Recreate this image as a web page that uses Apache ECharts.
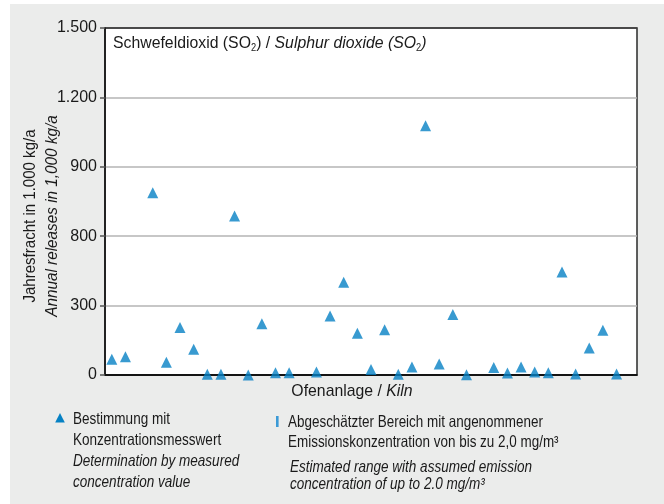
<!DOCTYPE html>
<html>
<head>
<meta charset="utf-8">
<script src="https://cdn.jsdelivr.net/npm/echarts@6/dist/echarts.min.js"></script>
<style>
  html, body { margin: 0; padding: 0; background: #fff; }
  #main { width: 664px; height: 504px; }
</style>
</head>
<body>
<div id="main"></div>
<script>
// kilns (no labels shown on the x axis)
var kilns = [];
for (var k = 1; k <= 39; k++) kilns.push("K" + k);

// SO2 annual releases, 1,000 kg/a (null = no measured value)
var so2Values = [
  68, 79, null, 788, 55, 205, 111, 3, 3, 687,
  0, 222, 10, 10, null, 13, 255, 401, 180, 24,
  196, 3, 35, 1077, 48, 262, 1, null, 32, 9,
  35, 13, 10, 445, 4, 117, 193, 4, null
];

// tick labels as printed in the original figure
var yTickLabels = ["0", "300", "800", "900", "1.200", "1.500"];

var FONT = '"Liberation Sans", Arial, sans-serif';
var BLUE = "#0681c4";
var INK = "#1a1a1a";

var chartDom = document.getElementById("main");
var myChart = echarts.init(chartDom);

var option = {
  backgroundColor: "#fff",
  animation: false,
  grid: {
    left: 105,
    right: 27,
    top: 28,
    bottom: 129,
    show: true,
    backgroundColor: "#fff",
    borderColor: "#2a2a2a",
    borderWidth: 1.5
  },
  xAxis: {
    type: "category",
    data: kilns,
    boundaryGap: true,
    axisLine: { lineStyle: { color: "#111", width: 1.5 } },
    axisTick: { show: false },
    axisLabel: { show: false },
    splitLine: { show: false }
  },
  yAxis: {
    type: "value",
    min: 0,
    max: 1500,
    interval: 300,
    axisLine: { show: true, lineStyle: { color: "#111", width: 1.5 } },
    axisTick: { show: true, length: 5, lineStyle: { color: "#555", width: 1.5 } },
    axisLabel: {
      margin: 8,
      color: INK,
      fontSize: 16,
      fontFamily: FONT,
      formatter: function (v) {
        return yTickLabels[Math.round(v / 300)];
      }
    },
    splitLine: {
      show: true,
      lineStyle: {
        color: ["#111", "#b5b5b5", "#b5b5b5", "#b5b5b5", "#b5b5b5", "#444"],
        width: 1.5
      }
    }
  },
  series: [
    {
      name: "Bestimmung mit Konzentrationsmesswert",
      type: "scatter",
      data: so2Values,
      symbol: "triangle",
      symbolSize: [11, 11],
      itemStyle: { color: BLUE },
      z: 5
    }
  ],
  graphic: [
    {
      type: "rect",
      z: -100,
      silent: true,
      shape: { x: 10, y: 4, width: 654, height: 500 },
      style: { fill: "#ebeceb" }
    },
    // chart title inside the plot
    {
      type: "text",
      x: 113,
      y: 43,
      scaleX: 0.93,
      z: 10,
      style: {
        text: "{n|Schwefeldioxid (SO}{s|2}{n|) / }{i|Sulphur dioxide (SO}{s|2}{i|)}",
        verticalAlign: "middle",
        rich: {
          n: { fontSize: 17, fontFamily: FONT, fill: INK },
          i: { fontSize: 17, fontFamily: FONT, fontStyle: "italic", fill: INK },
          s: { fontSize: 10, fontFamily: FONT, fill: INK, padding: [10, 0, 0, 0] }
        }
      }
    },
    // y axis name, two lines
    {
      type: "text",
      x: 30,
      y: 216,
      rotation: Math.PI / 2,
      scaleX: 0.885,
      style: {
        text: "Jahresfracht in 1.000 kg/a",
        fontSize: 17,
        fontFamily: FONT,
        fill: INK,
        align: "center",
        verticalAlign: "middle"
      }
    },
    {
      type: "text",
      x: 52,
      y: 216,
      rotation: Math.PI / 2,
      scaleX: 0.9,
      style: {
        text: "Annual releases in 1,000 kg/a",
        fontSize: 17,
        fontFamily: FONT,
        fontStyle: "italic",
        fill: INK,
        align: "center",
        verticalAlign: "middle"
      }
    },
    // x axis name
    {
      type: "text",
      x: 352,
      y: 391,
      scaleX: 0.93,
      style: {
        text: "{n|Ofenanlage / }{i|Kiln}",
        align: "center",
        verticalAlign: "middle",
        rich: {
          n: { fontSize: 17, fontFamily: FONT, fill: INK },
          i: { fontSize: 17, fontFamily: FONT, fontStyle: "italic", fill: INK }
        }
      }
    },
    // legend: measured
    {
      type: "polygon",
      shape: { points: [[60, 413], [64.8, 422.5], [55.2, 422.5]] },
      style: { fill: BLUE }
    },
    {
      type: "text",
      x: 73,
      y: 409,
      scaleX: 0.82,
      style: {
        text: "{n|Bestimmung mit}\n{n|Konzentrationsmesswert}\n{i|Determination by measured}\n{i|concentration value}",
        rich: {
          n: { fontSize: 16.5, fontFamily: FONT, fill: INK, lineHeight: 21 },
          i: { fontSize: 16.5, fontFamily: FONT, fontStyle: "italic", fill: INK, lineHeight: 21 }
        }
      }
    },
    // legend: estimated range
    {
      type: "rect",
      shape: { x: 276, y: 416, width: 2.6, height: 11 },
      style: { fill: "#3b9ad6" }
    },
    {
      type: "text",
      x: 288,
      y: 412,
      scaleX: 0.815,
      style: {
        text: "Abgeschätzter Bereich mit angenommener\nEmissionskonzentration von bis zu 2,0 mg/m³",
        fontSize: 16.5,
        fontFamily: FONT,
        fill: INK,
        lineHeight: 20
      }
    },
    {
      type: "text",
      x: 290,
      y: 459,
      scaleX: 0.82,
      style: {
        text: "Estimated range with assumed emission\nconcentration of up to 2.0 mg/m³",
        fontSize: 16.5,
        fontFamily: FONT,
        fontStyle: "italic",
        fill: INK,
        lineHeight: 17
      }
    }
  ]
};

option && myChart.setOption(option);
</script>
</body>
</html>
